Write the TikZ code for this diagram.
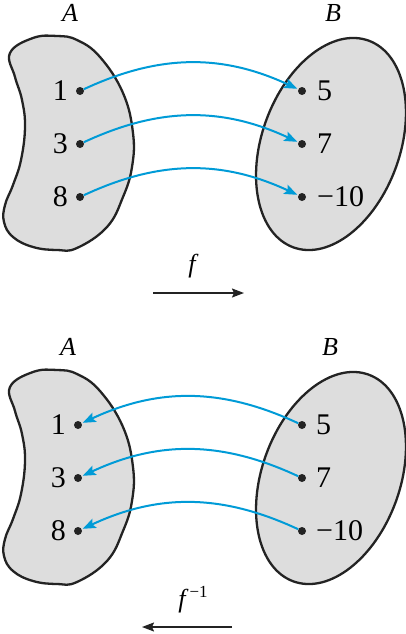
\documentclass[tikz,border=0pt]{standalone}
\usepackage{fontspec}
\setmainfont{Liberation Serif}
\usetikzlibrary{arrows.meta}
\definecolor{setgray}{RGB}{221,221,221}
\definecolor{outl}{RGB}{35,35,35}
\definecolor{mapblue}{RGB}{0,155,215}
\begin{document}
\begin{tikzpicture}[x=1pt,y=1pt,
  setshape/.style={draw=outl, line width=2.3pt, fill=setgray},
  elem/.style={circle, fill=outl, inner sep=0pt, minimum size=8pt},
  num/.style={font=\fontsize{30}{34}\selectfont, inner sep=0pt},
  setname/.style={font=\fontsize{26}{30}\selectfont\itshape, inner sep=0pt},
  maparrow/.style={draw=mapblue, line width=2pt, shorten >=1pt, -{Stealth[length=13pt,width=10pt,inset=2.5pt]}},
  dirarrow/.style={draw=outl, line width=1.6pt, -{Stealth[length=12pt,width=9pt,inset=2pt]}}
]
\useasboundingbox (0,0) rectangle (406,-634);

% ---------- top diagram ----------
\draw[setshape] plot[smooth cycle, tension=0.7] coordinates {
  (10,-53) (33,-38) (57,-36) (77,-40) (100,-57) (123,-93) (133,-133)
  (132,-167) (123,-197) (107,-227) (77,-248) (57,-250) (33,-247)
  (13,-237) (4,-222) (5,-205) (13,-185) (21,-160) (25,-127) (22,-100) (15,-77)};
\draw[setshape, shift={(331,-144)}, rotate=-20] (0,0) ellipse [x radius=69pt, y radius=110pt];

\node[setname] (tA) at (70,-13) {A};
\node[setname] (tB) at (333,-13) {B};

\node[elem] (ta1) at (80,-91) {};
\node[elem] (ta3) at (80,-144) {};
\node[elem] (ta8) at (80,-197) {};
\node[elem] (tb5) at (302,-91) {};
\node[elem] (tb7) at (302,-144) {};
\node[elem] (tb10) at (302,-197) {};

\node[num, anchor=east] (tl1) at ([xshift=-12pt]ta1.center) {1};
\node[num, anchor=east] (tl3) at ([xshift=-12pt]ta3.center) {3};
\node[num, anchor=east] (tl8) at ([xshift=-12pt]ta8.center) {8};
\node[num, anchor=west] (tl5) at ([xshift=15pt]tb5.center) {5};
\node[num, anchor=west] (tl7) at ([xshift=15pt]tb7.center) {7};
\node[num, anchor=west] (tl10) at ([xshift=15pt]tb10.center) {−10};

\draw[maparrow] (ta1) to[bend left=25] (tb5);
\draw[maparrow] (ta3) to[bend left=25] (tb7);
\draw[maparrow] (ta8) to[bend left=25] (tb10);

\node[setname] (tf) at (192,-266) {f};
\coordinate (fs) at (153,-293);
\coordinate (fe) at (244,-293);
\draw[dirarrow] (fs) -- (fe);

% ---------- bottom diagram ----------
\begin{scope}[yshift=-334pt]
\draw[setshape] plot[smooth cycle, tension=0.7] coordinates {
  (10,-53) (33,-38) (57,-36) (77,-40) (100,-57) (123,-93) (133,-133)
  (132,-167) (123,-197) (107,-227) (77,-248) (57,-250) (33,-247)
  (13,-237) (4,-222) (5,-205) (13,-185) (21,-160) (25,-127) (22,-100) (15,-77)};
\draw[setshape, shift={(331,-144)}, rotate=-20] (0,0) ellipse [x radius=69pt, y radius=110pt];

\node[setname] (bA) at (68,-13) {A};
\node[setname] (bB) at (330,-13) {B};

\node[elem] (ba1) at (78,-91) {};
\node[elem] (ba3) at (78,-144) {};
\node[elem] (ba8) at (78,-197) {};
\node[elem] (bb5) at (302,-91) {};
\node[elem] (bb7) at (302,-144) {};
\node[elem] (bb10) at (302,-197) {};

\node[num, anchor=east] (bl1) at ([xshift=-12pt]ba1.center) {1};
\node[num, anchor=east] (bl3) at ([xshift=-12pt]ba3.center) {3};
\node[num, anchor=east] (bl8) at ([xshift=-12pt]ba8.center) {8};
\node[num, anchor=west] (bl5) at ([xshift=14pt]bb5.center) {5};
\node[num, anchor=west] (bl7) at ([xshift=14pt]bb7.center) {7};
\node[num, anchor=west] (bl10) at ([xshift=14pt]bb10.center) {−10};

\draw[maparrow] (bb5) to[bend right=25] (ba1);
\draw[maparrow] (bb7) to[bend right=25] (ba3);
\draw[maparrow] (bb10) to[bend right=25] (ba8);

\node[font=\fontsize{26}{30}\selectfont, inner sep=0pt] (bf) at (193,-266) {\textit{f}\kern1pt\raisebox{10pt}{\fontsize{17}{18}\selectfont −1}};
\coordinate (gs) at (232,-293);
\coordinate (ge) at (142,-293);
\draw[dirarrow] (gs) -- (ge);
\end{scope}
\end{tikzpicture}
\end{document}
